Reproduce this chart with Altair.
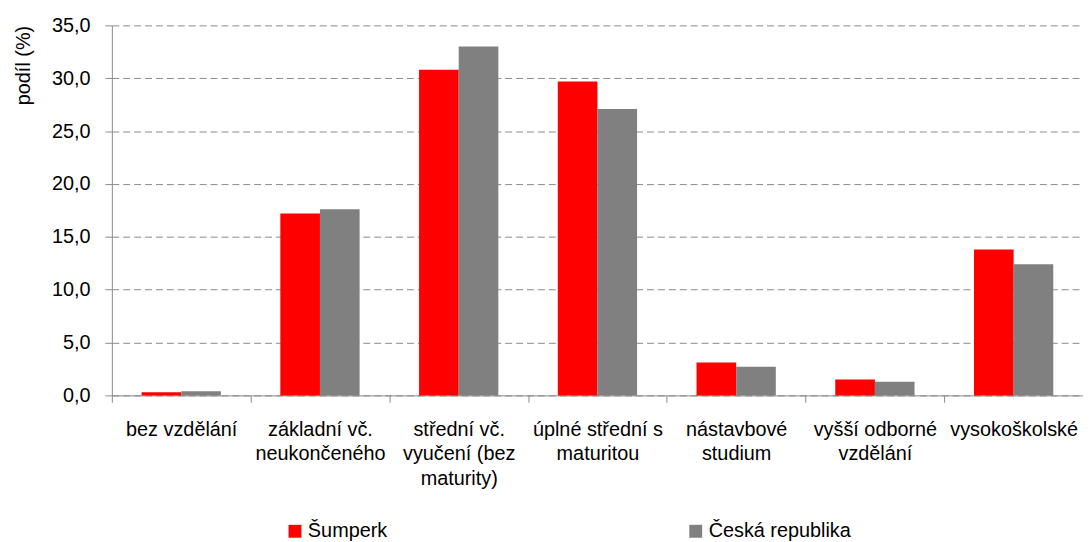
import json
import altair as alt
import pandas as pd

categories = [
    "bez vzdělání",
    "základní vč. neukončeného",
    "střední vč. vyučení (bez maturity)",
    "úplné střední s maturitou",
    "nástavbové studium",
    "vyšší odborné vzdělání",
    "vysokoškolské",
]
label_lines = [
    ["bez vzdělání"],
    ["základní vč.", "neukončeného"],
    ["střední vč.", "vyučení (bez", "maturity)"],
    ["úplné střední s", "maturitou"],
    ["nástavbové", "studium"],
    ["vyšší odborné", "vzdělání"],
    ["vysokoškolské"],
]
series = ["Šumperk", "Česká republika"]
sumperk = [0.3, 17.2, 30.8, 29.7, 3.1, 1.5, 13.8]
ceska_republika = [0.4, 17.6, 33.0, 27.1, 2.7, 1.3, 12.4]
colors = ["#FF0000", "#808080"]
y_ticks = [0, 5, 10, 15, 20, 25, 30, 35]

rows = []
for i, c in enumerate(categories):
    rows.append({"kategorie": c, "řada": series[0], "podíl": sumperk[i]})
    rows.append({"kategorie": c, "řada": series[1], "podíl": ceska_republika[i]})
df = pd.DataFrame(rows)

label_map = json.dumps(dict(zip(categories, label_lines)), ensure_ascii=False)

FONT = "Liberation Sans"
AXIS_GRAY = "#8a8a8a"

chart = alt.Chart(df).mark_bar().encode(
    x=alt.X(
        "kategorie:N",
        sort=categories,
        scale=alt.Scale(paddingInner=0, paddingOuter=0),
        axis=alt.Axis(
            title=None,
            labelAngle=0,
            labelExpr=f"{label_map}[datum.label]",
            labelFontSize=20,
            labelLineHeight=25,
            labelPadding=17,
            labelColor="#000000",
            labelLimit=0,
            tickBand="extent",
            tickSize=7,
            tickColor=AXIS_GRAY,
            domainColor=AXIS_GRAY,
            grid=False,
        ),
    ),
    xOffset=alt.XOffset(
        "řada:N",
        sort=series,
        scale=alt.Scale(paddingInner=0, paddingOuter=0.75),
    ),
    y=alt.Y(
        "podíl:Q",
        scale=alt.Scale(domain=[0, 35], nice=False),
        axis=alt.Axis(
            title="podíl (%)",
            values=y_ticks,
            labelExpr="replace(format(datum.value, '.1f'), '.', ',')",
            labelFontSize=20,
            labelPadding=15,
            labelColor="#000000",
            tickSize=7,
            tickColor=AXIS_GRAY,
            domainColor=AXIS_GRAY,
            grid=True,
            gridColor="#8a8a8a",
            gridDash=[7, 4],
            gridWidth=1,
            titleFontSize=20,
            titleFontWeight="normal",
            titleColor="#000000",
            titleAnchor="end",
            titlePadding=18,
        ),
    ),
    color=alt.Color(
        "řada:N",
        sort=series,
        scale=alt.Scale(domain=series, range=colors),
        legend=alt.Legend(
            title=None,
            orient="none",
            direction="horizontal",
            legendX=174.6,
            legendY=500,
            symbolType="square",
            symbolSize=169,
            symbolStrokeWidth=0,
            labelFontSize=20,
            labelColor="#000000",
            labelOffset=3,
            columnPadding=300,
            padding=0,
        ),
    ),
).properties(
    width=979,
    height=373,
    autosize=alt.AutoSizeParams(type="none"),
    padding={"left": 104.7, "top": 15.3, "right": 0, "bottom": 160},
).configure_view(
    stroke=None
).configure_axis(
    labelFont=FONT, titleFont=FONT
).configure_legend(
    labelFont=FONT
)

chart.save("out.html", embed_options={"renderer": "svg", "actions": False})
